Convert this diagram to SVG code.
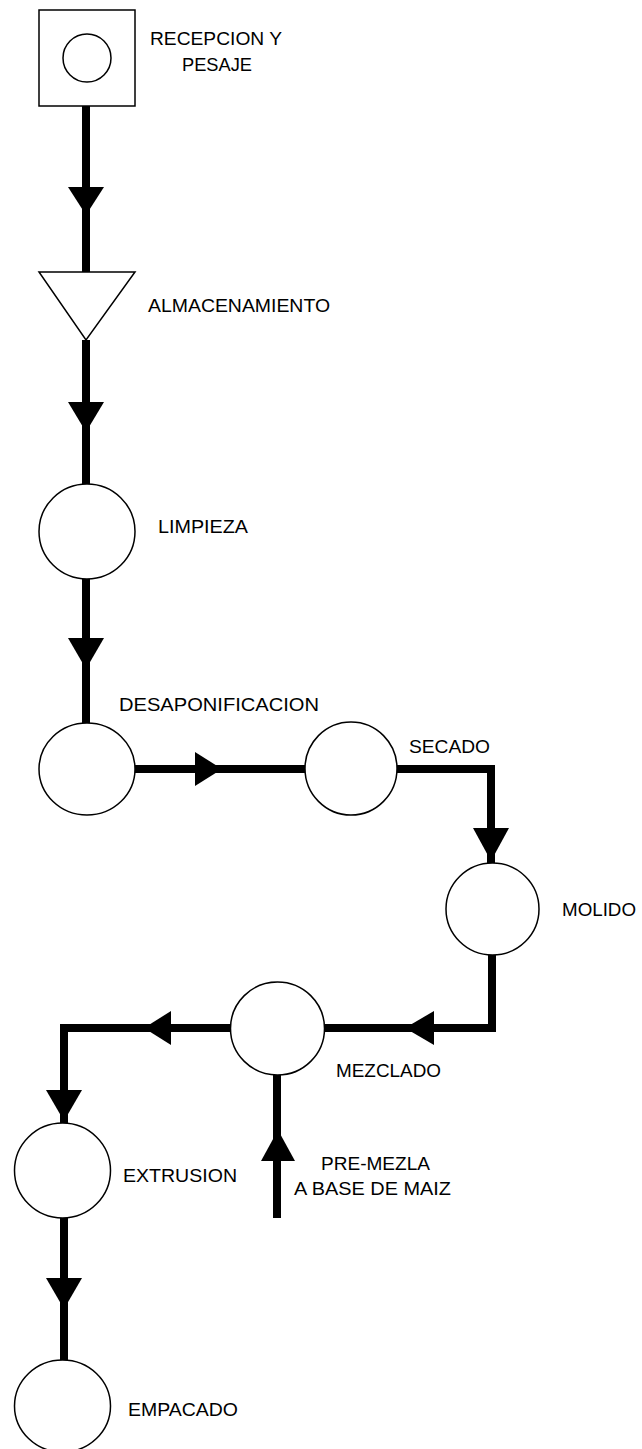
<svg xmlns="http://www.w3.org/2000/svg" width="642" height="1449" viewBox="0 0 642 1449">
<style>
.shape{fill:#fff;stroke:#000;stroke-width:1.5}
.line{fill:none;stroke:#000;stroke-width:8;stroke-linejoin:miter;stroke-linecap:butt}
.head{fill:#000;stroke:none}
text{font-family:"Liberation Sans",Arial,sans-serif;font-size:19px;fill:#000}
</style>
<rect x="0" y="0" width="642" height="1449" fill="#fff"/>
<g id="connectors">
<path class="line" d="M86 106V272"/>
<polygon class="head" points="68,187 104,187 86,215"/>
<path class="line" d="M86 340V484"/>
<polygon class="head" points="68,402 104,402 86,432"/>
<path class="line" d="M86 579V723"/>
<polygon class="head" points="68,638 104,638 86,669"/>
<path class="line" d="M135 769H305"/>
<polygon class="head" points="195,752 195,786 222,769"/>
<path class="line" d="M397 769H491V863"/>
<polygon class="head" points="473,828 509,828 491,861"/>
<path class="line" d="M492 955V1028H325"/>
<polygon class="head" points="434,1011 434,1045 405,1028"/>
<path class="line" d="M230 1028H64V1123"/>
<polygon class="head" points="171,1011 171,1045 144,1028"/>
<polygon class="head" points="46,1090 82,1090 64,1121"/>
<path class="line" d="M277 1218V1075"/>
<polygon class="head" points="261,1161 295,1161 278,1130"/>
<path class="line" d="M64 1218V1360"/>
<polygon class="head" points="46,1278 82,1278 64,1309"/>
</g>
<g id="recepcion">
<rect class="shape" x="39" y="10" width="96" height="96"/>
<circle class="shape" cx="87" cy="58" r="24"/>
<text x="150" y="45" textLength="132" lengthAdjust="spacingAndGlyphs">RECEPCION Y</text>
<text x="182" y="71" textLength="70" lengthAdjust="spacingAndGlyphs">PESAJE</text>
</g>
<g id="almacenamiento">
<polygon class="shape" points="39,272 135,272 86,340"/>
<text x="148" y="312" textLength="182" lengthAdjust="spacingAndGlyphs">ALMACENAMIENTO</text>
</g>
<g id="limpieza">
<ellipse class="shape" cx="87" cy="531.5" rx="48" ry="47.5"/>
<text x="158" y="533" textLength="90" lengthAdjust="spacingAndGlyphs">LIMPIEZA</text>
</g>
<g id="desaponificacion">
<ellipse class="shape" cx="87" cy="769" rx="48" ry="46"/>
<text x="119" y="711" textLength="200" lengthAdjust="spacingAndGlyphs">DESAPONIFICACION</text>
</g>
<g id="secado">
<ellipse class="shape" cx="351" cy="768.5" rx="46" ry="46.5"/>
<text x="409" y="753" textLength="81" lengthAdjust="spacingAndGlyphs">SECADO</text>
</g>
<g id="molido">
<ellipse class="shape" cx="492.5" cy="909" rx="46.5" ry="46"/>
<text x="562" y="916" textLength="74" lengthAdjust="spacingAndGlyphs">MOLIDO</text>
</g>
<g id="mezclado">
<ellipse class="shape" cx="277.5" cy="1028.5" rx="47" ry="46.5"/>
<text x="336" y="1077" textLength="105" lengthAdjust="spacingAndGlyphs">MEZCLADO</text>
</g>
<g id="premezcla">
<text x="321" y="1170" textLength="109" lengthAdjust="spacingAndGlyphs">PRE-MEZLA</text>
<text x="294" y="1195" textLength="157" lengthAdjust="spacingAndGlyphs">A BASE DE MAIZ</text>
</g>
<g id="extrusion">
<ellipse class="shape" cx="62.5" cy="1170.5" rx="48" ry="47.5"/>
<text x="123" y="1182" textLength="114" lengthAdjust="spacingAndGlyphs">EXTRUSION</text>
</g>
<g id="empacado">
<ellipse class="shape" cx="62.5" cy="1406" rx="48" ry="46"/>
<text x="128" y="1416" textLength="110" lengthAdjust="spacingAndGlyphs">EMPACADO</text>
</g>
</svg>
